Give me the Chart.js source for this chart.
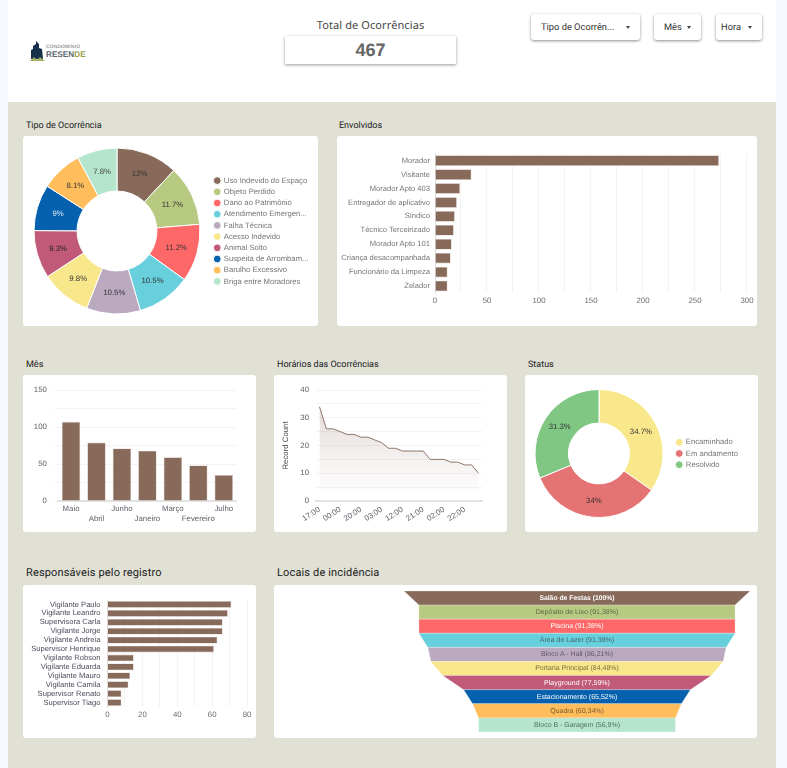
<!DOCTYPE html>
<html lang="pt-BR">
<head>
<meta charset="utf-8">
<title>Painel de Ocorrências</title>
<script src="https://cdn.jsdelivr.net/npm/chart.js@4/dist/chart.umd.min.js"></script>
<style>
html, body { margin: 0; padding: 0; width: 787px; height: 768px; overflow: hidden; background: #f8f9fe; font-family: Roboto, sans-serif; text-rendering: geometricPrecision; }
#header { position: absolute; left: 8px; top: 0; width: 768px; height: 102px; background: #fff; }
#main { position: absolute; left: 8px; top: 102px; width: 768px; height: 666px; background: #e0e0d5; }
.card { position: absolute; background: #fff; border-radius: 3px; }
.card canvas { position: absolute; left: 0; top: 0; }
.title { position: absolute; color: #222; font-size: 9px; line-height: 12px; white-space: nowrap; }
.title.big { font-size: 11px; letter-spacing: .15px; line-height: 14px; }
.drop { position: absolute; top: 14px; height: 26px; line-height: 27px; background: #fff; border-radius: 3px; box-shadow: 0 1px 3px rgba(0,0,0,.45); font-size: 9.3px; color: #333; padding-left: 10px; box-sizing: border-box; }
.drop:after { content: ""; position: absolute; right: 10px; top: 12px; border: 2.5px solid transparent; border-top: 3px solid #444; }
#totalLabel { position: absolute; left: 285px; top: 18px; width: 171px; text-align: center; font-size: 11px; letter-spacing: .1px; color: #444; font-family: "Noto Sans", sans-serif; }
#totalBox { position: absolute; left: 285px; top: 36px; width: 171px; height: 28px; text-align: center; background: #fff; box-shadow: 0 1px 3px rgba(0,0,0,.4); font: bold 18px/29px "Liberation Sans", sans-serif; color: #666; }
#logo { position: absolute; left: 30px; top: 40px; width: 60px; height: 22px; }
#logo svg { position: absolute; left: 0; top: 0; }
#logo .a { position: absolute; left: 16px; top: 5px; font: 4.8px/6px "Liberation Sans", sans-serif; color: #666; letter-spacing: .25px; }
#logo .b { position: absolute; left: 16px; top: 10px; font: bold 8.2px/10px "Liberation Sans", sans-serif; color: #5b6670; }
#logo .b span { color: #9aa648; }
</style>
</head>
<body>
<div id="header"></div>
<div id="main"></div>

<div id="logo">
  <svg width="16" height="22"><path d="M1 19V10l2-1V6l3-2V1l3 3v4l3 1 1 10z" fill="#16304b"/><path d="M0 21l4-4 3 3 3-3 5 4z" fill="#a3ad62"/></svg>
  <div class="a">CONDOMINIO</div>
  <div class="b">RESEN<span>DE</span></div>
</div>
<div id="totalLabel">Total de Ocorrências</div>
<div id="totalBox">467</div>
<div class="drop" style="left:531px;width:109px">Tipo de Ocorrên...</div>
<div class="drop" style="left:654px;width:47px">Mês</div>
<div class="drop" style="left:716px;width:46px;padding-left:5px">Hora</div>

<div class="title" style="left:26px;top:120px">Tipo de Ocorrência</div>
<div class="title" style="left:339px;top:120px">Envolvidos</div>
<div class="title" style="left:26px;top:359px">Mês</div>
<div class="title" style="left:277px;top:359px">Horários das Ocorrências</div>
<div class="title" style="left:528px;top:359px">Status</div>
<div class="title big" style="left:26px;top:566px">Responsáveis pelo registro</div>
<div class="title big" style="left:277px;top:566px">Locais de incidência</div>

<div class="card" style="left:23px;top:136px;width:295px;height:190px"><canvas id="tipoChart" width="295" height="190"></canvas></div>
<div class="card" style="left:337px;top:136px;width:420px;height:190px"><canvas id="envolvidosChart" width="420" height="190"></canvas></div>
<div class="card" style="left:23px;top:375px;width:233px;height:157px"><canvas id="mesChart" width="233" height="157"></canvas></div>
<div class="card" style="left:274px;top:375px;width:233px;height:157px"><canvas id="horaChart" width="233" height="157"></canvas></div>
<div class="card" style="left:525px;top:375px;width:233px;height:157px"><canvas id="statusChart" width="233" height="157"></canvas></div>
<div class="card" style="left:23px;top:585px;width:233px;height:153px"><canvas id="respChart" width="233" height="153"></canvas></div>
<div class="card" style="left:274px;top:585px;width:483px;height:153px"><canvas id="locaisChart" width="483" height="153"></canvas></div>

<script>
// Data
const tipoLabels = ['Uso Indevido do Espaço', 'Objeto Perdido', 'Dano ao Patrimônio', 'Atendimento Emergen...', 'Falha Técnica', 'Acesso Indevido', 'Animal Solto', 'Suspeita de Arrombam...', 'Barulho Excessivo', 'Briga entre Moradores'];
const tipoValues = [12, 11.7, 11.2, 10.5, 10.5, 9.8, 9.3, 9, 8.1, 7.8];

const envolvidosLabels = ['Morador', 'Visitante', 'Morador Apto 403', 'Entregador de aplicativo', 'Síndico', 'Técnico Terceirizado', 'Morador Apto 101', 'Criança desacompanhada', 'Funcionário da Limpeza', 'Zelador'];
const envolvidosValues = [273, 35, 24, 21, 19, 18, 16, 15, 12, 12];

const mesLabels = ['Maio', 'Abril', 'Junho', 'Janeiro', 'Março', 'Fevereiro', 'Julho'];
const mesValues = [107, 79, 71, 68, 59, 48, 35];

// only every third hour is printed on the axis
const horaLabels = ['17:00', '18:00', '19:00', '00:00', '23:00', '16:00', '20:00', '15:00', '14:00', '03:00', '13:00', '11:00', '12:00', '10:00', '09:00', '21:00', '08:00', '07:00', '02:00', '06:00', '05:00', '22:00', '04:00', '01:00'];
const horaValues = [34, 26, 26, 25, 24, 24, 23, 23, 22, 21, 19, 19, 18, 18, 18, 18, 15, 15, 15, 14, 14, 13, 13, 10];

const statusLabels = ['Encaminhado', 'Em andamento', 'Resolvido'];
const statusValues = [162, 159, 146];

const respLabels = ['Vigilante Paulo', 'Vigilante Leandro', 'Supervisora Carla', 'Vigilante Jorge', 'Vigilante Andreia', 'Supervisor Henrique', 'Vigilante Robson', 'Vigilante Eduarda', 'Vigilante Mauro', 'Vigilante Camila', 'Supervisor Renato', 'Supervisor Tiago'];
const respValues = [71, 69, 66, 66, 63, 61, 15, 15, 13, 12, 8, 8];

const locaisLabels = ['Salão de Festas', 'Depósito de Lixo', 'Piscina', 'Área de Lazer', 'Bloco A - Hall', 'Portaria Principal', 'Playground', 'Estacionamento', 'Quadra', 'Bloco B - Garagem'];
const locaisValues = [100, 91.38, 91.38, 91.38, 86.21, 84.48, 77.59, 65.52, 60.34, 56.9];

// Colours
const palette = ['#886a5a', '#b8ca82', '#ff6868', '#68cfdc', '#bbaabf', '#f9e78c', '#c05a78', '#0561ae', '#ffbd5c', '#b5e5cd'];
const tipoTextColors = ['#333', '#333', '#333', '#333', '#333', '#333', '#222', '#d8e4f0', '#333', '#444'];
const locaisTextColors = ['#fff', '#5c6640', '#fff', '#3f6a70', '#5f5664', '#77703f', '#fff', '#fff', '#77592c', '#50705f'];
const statusColors = ['#f9e88b', '#e57373', '#81c784'];
const brown = '#886a5a';
const barBorder = '#cdbfb6';
const tickColor = '#5d6068';
const gridColor = '#f3f3f3';
const fontName = '"Liberation Sans", Arial, sans-serif';

Chart.defaults.font.family = fontName;
Chart.defaults.font.size = 7.8;
Chart.defaults.color = tickColor;
Chart.defaults.animation = false;
Chart.defaults.responsive = false;
Chart.defaults.plugins.tooltip.enabled = false;

// Unhinted text, so widths match the reference
Chart.register({
    id: 'preciseText',
    beforeLayout(chart) {
        chart.ctx.textRendering = 'geometricPrecision';
    }
});

// Fixes the width the legend takes from the chart area
const legendBox = {
    id: 'legendBox',
    beforeLayout(chart, args, opts) {
        const fit = chart.legend.fit;
        chart.legend.fit = function () {
            fit.call(this);
            this.width = opts.width;
        };
    }
};

// Prints the percentage in the middle of each slice
const sliceLabels = {
    id: 'sliceLabels',
    afterDatasetsDraw(chart, args, opts) {
        const ctx = chart.ctx;
        const total = opts.total;
        ctx.save();
        ctx.font = '7.8px ' + fontName;
        ctx.textAlign = 'center';
        ctx.textBaseline = 'middle';
        chart.getDatasetMeta(0).data.forEach((arc, i) => {
            const p = arc.getCenterPoint();
            const v = chart.data.datasets[0].data[i];
            const text = parseFloat((v / total * 100).toFixed(1)) + '%';
            ctx.fillStyle = opts.colors[i];
            ctx.fillText(text, p.x, p.y);
        });
        ctx.restore();
    }
};

// Draws each funnel step as a trapezoid, from its own value down to the next one
const funnelShape = {
    id: 'funnelShape',
    afterDatasetsDraw(chart) {
        const ctx = chart.ctx;
        const xs = chart.scales.x;
        const values = chart.data.datasets[0].data.map(d => d[1] * 2);
        ctx.save();
        chart.getDatasetMeta(0).data.forEach((bar, i) => {
            const top = bar.y - bar.height / 2;
            const bottom = bar.y + bar.height / 2;
            const next = i < values.length - 1 ? values[i + 1] : values[i];
            ctx.fillStyle = palette[i];
            ctx.beginPath();
            ctx.moveTo(xs.getPixelForValue(-values[i] / 2), top);
            ctx.lineTo(xs.getPixelForValue(values[i] / 2), top);
            ctx.lineTo(xs.getPixelForValue(next / 2), bottom);
            ctx.lineTo(xs.getPixelForValue(-next / 2), bottom);
            ctx.closePath();
            ctx.fill();
            ctx.strokeStyle = 'rgba(255,255,255,.5)';
            ctx.lineWidth = 0.5;
            ctx.stroke();
            ctx.font = (i === 0 ? 'bold 6.8px ' : '7px ') + fontName;
            ctx.textAlign = 'center';
            ctx.textBaseline = 'middle';
            ctx.fillStyle = locaisTextColors[i];
            const pct = String(values[i]).replace('.', ',');
            ctx.fillText(locaisLabels[i] + ' (' + pct + '%)', xs.getPixelForValue(0), bar.y);
        });
        ctx.restore();
    }
};

function donut(id, labels, values, colors, textColors, total, radius, hole, legendWidth, padRight) {
    new Chart(document.getElementById(id), {
        type: 'doughnut',
        data: {
            labels: labels,
            datasets: [{ data: values, backgroundColor: colors, borderColor: '#fff', borderWidth: 1, radius: radius, cutout: hole }]
        },
        options: {
            layout: { padding: { right: padRight } },
            plugins: {
                legend: {
                    position: 'right',
                    labels: { usePointStyle: true, pointStyle: 'circle', boxWidth: 5.5, boxHeight: 5.5, padding: 3.5, color: '#757575', font: { size: 7.7 } }
                },
                legendBox: { width: legendWidth },
                sliceLabels: { colors: textColors, total: total }
            }
        },
        plugins: [legendBox, sliceLabels]
    });
}

function hBars(id, labels, values, max, step, printEvery, axisWidth, padding, labelColor, labelGap) {
    new Chart(document.getElementById(id), {
        type: 'bar',
        data: {
            labels: labels,
            datasets: [{ data: values, backgroundColor: brown, borderColor: barBorder, borderWidth: 0.6, barPercentage: 0.76, categoryPercentage: 1 }]
        },
        options: {
            indexAxis: 'y',
            layout: { padding: padding },
            plugins: { legend: { display: false } },
            scales: {
                x: {
                    min: 0, max: max,
                    border: { display: false },
                    grid: { color: gridColor, drawTicks: false },
                    ticks: { stepSize: step, padding: 3.5, maxRotation: 0, autoSkip: false, color: '#6e6e72', callback: v => v % printEvery === 0 ? v : '' },
                    afterFit: s => { s.height = 20; }
                },
                y: {
                    border: { color: '#ddd', width: 1 },
                    grid: { display: false, drawTicks: false },
                    ticks: { padding: labelGap, autoSkip: false, color: labelColor, font: { size: 7.6 } },
                    afterFit: s => { s.width = axisWidth; }
                }
            }
        }
    });
}

donut('tipoChart', tipoLabels, tipoValues, palette, tipoTextColors, 100, 83, 45, 103, 4);
hBars('envolvidosChart', envolvidosLabels, envolvidosValues, 300, 25, 50, 98, { left: 0, right: 6, top: 17.7, bottom: 13 }, '#777', 5);

new Chart(document.getElementById('mesChart'), {
    type: 'bar',
    data: {
        labels: mesLabels,
        datasets: [{ data: mesValues, backgroundColor: brown, borderColor: barBorder, borderWidth: 0.6, barPercentage: 0.72, categoryPercentage: 1 }]
    },
    options: {
        layout: { padding: { left: 0, right: 19.5, top: 15, bottom: 0 } },
        plugins: { legend: { display: false } },
        scales: {
            x: {
                border: { color: '#e2e2e2', width: 2 },
                grid: { display: false, drawTicks: false },
                ticks: {
                    autoSkip: false, maxRotation: 0, minRotation: 0, padding: 3,
                    font: { lineHeight: 1.25 },
                    // every other label drops to a second row
                    callback(v, i) { const t = this.getLabelForValue(v); return i % 2 ? ['', t] : t; }
                },
                afterFit: s => { s.height = 31; }
            },
            y: {
                min: 0, max: 150,
                border: { display: false },
                grid: { color: gridColor, tickLength: 4 },
                ticks: { stepSize: 25, padding: 7.5, callback: v => v % 50 === 0 ? v : '' },
                afterFit: s => { s.width = 35.3; }
            }
        }
    }
});

new Chart(document.getElementById('horaChart'), {
    type: 'line',
    data: {
        labels: horaLabels,
        datasets: [{
            data: horaValues,
            borderColor: '#8f7667',
            borderWidth: 1,
            pointRadius: 0,
            tension: 0,
            fill: 'origin',
            backgroundColor(c) {
                const area = c.chart.chartArea;
                if (!area) return 'transparent';
                const g = c.chart.ctx.createLinearGradient(0, area.top + 12, 0, area.bottom);
                g.addColorStop(0, 'rgba(136,106,90,.24)');
                g.addColorStop(0.95, 'rgba(136,106,90,0)');
                return g;
            }
        }]
    },
    options: {
        layout: { padding: { left: 0, right: 25, top: 15, bottom: 0 } },
        plugins: { legend: { display: false } },
        scales: {
            x: {
                offset: true,
                border: { color: '#e2e2e2', width: 2 },
                grid: { display: false, drawTicks: false },
                ticks: {
                    autoSkip: false, maxRotation: 33, minRotation: 33, padding: 4,
                    callback(v, i) { return i % 3 === 0 ? this.getLabelForValue(v) : ''; }
                },
                afterFit: s => { s.height = 31; }
            },
            y: {
                min: 0, max: 40,
                title: { display: true, text: 'Record Count', color: '#444', font: { size: 7.8 }, padding: { top: 7, bottom: 0 } },
                border: { display: false },
                grid: { color: gridColor, drawTicks: false },
                ticks: { stepSize: 5, padding: 7, callback: v => v % 10 === 0 ? v : '' },
                afterFit: s => { s.width = 42; }
            }
        }
    }
});

donut('statusChart', statusLabels, statusValues, statusColors, ['#333', '#333', '#333'], 467, 64, 35, 69, 16);
hBars('respChart', respLabels, respValues, 80, 10, 20, 84.5, { left: 0, right: 9, top: 15, bottom: 11 }, '#4a4c5c', 7);

new Chart(document.getElementById('locaisChart'), {
    type: 'bar',
    data: {
        labels: locaisLabels,
        // centred floating bars; the plugin above paints them as funnel steps
        datasets: [{ data: locaisValues.map(v => [-v / 2, v / 2]), backgroundColor: 'transparent', barPercentage: 1, categoryPercentage: 1 }]
    },
    options: {
        indexAxis: 'y',
        layout: { padding: { left: 130, right: 7, top: 6, bottom: 6 } },
        plugins: { legend: { display: false } },
        scales: {
            x: { display: false, min: -50, max: 50 },
            y: { display: false }
        }
    },
    plugins: [funnelShape]
});
</script>
</body>
</html>
